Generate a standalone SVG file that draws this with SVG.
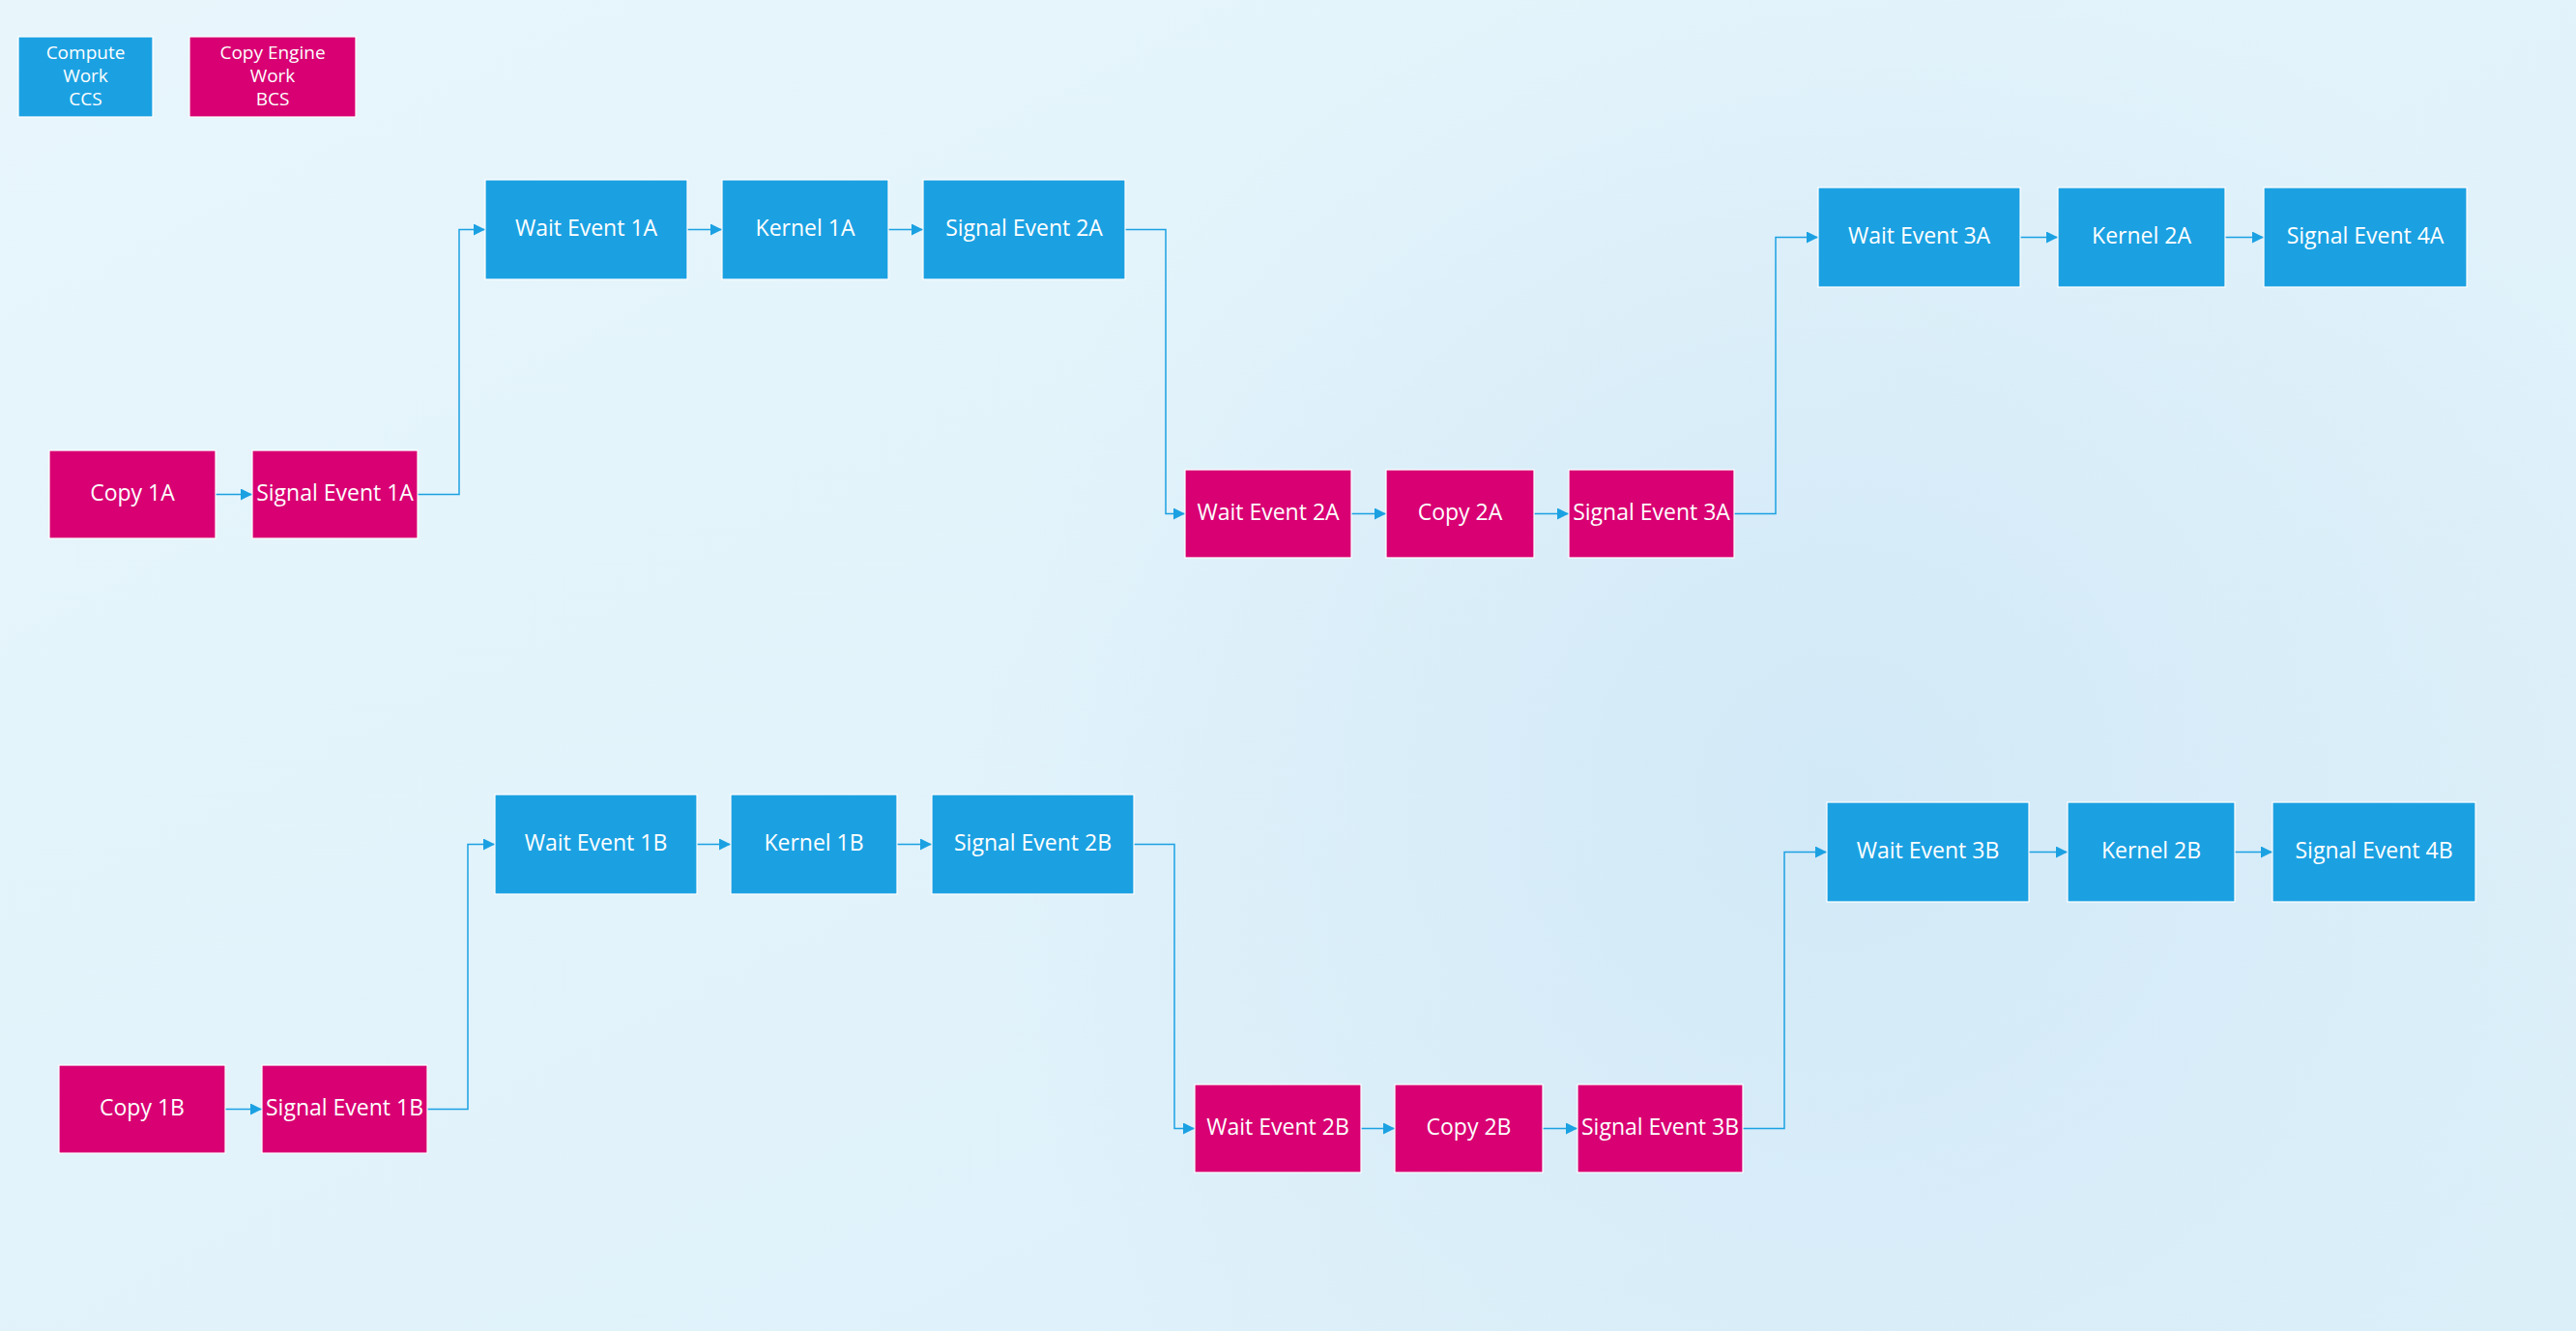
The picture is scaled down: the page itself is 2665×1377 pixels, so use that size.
<svg xmlns="http://www.w3.org/2000/svg" width="2665" height="1377" viewBox="0 0 2665 1377">
<defs>
<linearGradient id="bg" x1="0" y1="0" x2="1" y2="1">
<stop offset="0" stop-color="#e8f6fc"/>
<stop offset="1" stop-color="#dbeff9"/>
</linearGradient>
<radialGradient id="spot" cx="1900" cy="820" r="900" gradientUnits="userSpaceOnUse">
<stop offset="0" stop-color="#d2e9f7" stop-opacity="1"/>
<stop offset="1" stop-color="#d2e9f7" stop-opacity="0"/>
</radialGradient>
<marker id="arr" markerUnits="userSpaceOnUse" markerWidth="12" markerHeight="12" refX="12" refY="6" orient="auto">
<path d="M0,0 L12,6 L0,12 Z" fill="#1ba1e2"/>
</marker>
<style>
.c rect{fill:#1ba1e2;stroke:#ffffff;stroke-width:1.2}
.b rect{fill:#d80073;stroke:#ffffff;stroke-width:1.2}
text{font-family:"Open Sans","Noto Sans","DejaVu Sans",sans-serif;font-size:23px;fill:#ffffff;text-anchor:middle}
.lg text{font-size:19px}
#connectors path{fill:none;stroke:#1ba1e2;stroke-width:1.5;marker-end:url(#arr)}
</style>
</defs>
<rect width="2665" height="1377" fill="url(#bg)"/>
<rect width="2665" height="1377" fill="url(#spot)"/>

<g id="legend-ccs" class="c lg"><rect x="19" y="38" width="139" height="83"/><text x="88.5" y="61">Compute</text><text x="88.5" y="85">Work</text><text x="88.5" y="109">CCS</text></g>
<g id="legend-bcs" class="b lg"><rect x="196" y="38" width="172" height="83"/><text x="282" y="61">Copy Engine</text><text x="282" y="85">Work</text><text x="282" y="109">BCS</text></g>

<g id="connectors">
<path d="M223,511.5 H261"/>
<path d="M432,511.5 H475 V237.5 H502"/>
<path d="M711,237.5 H747"/>
<path d="M919,237.5 H955"/>
<path d="M1164,237.5 H1206 V531.5 H1226"/>
<path d="M1398,531.5 H1434"/>
<path d="M1587,531.5 H1623"/>
<path d="M1794,531.5 H1837 V245.5 H1881"/>
<path d="M2090,245.5 H2129"/>
<path d="M2302,245.5 H2342"/>
<path d="M233,1147.5 H271"/>
<path d="M442,1147.5 H484 V873.5 H512"/>
<path d="M721,873.5 H756"/>
<path d="M928,873.5 H964"/>
<path d="M1173,873.5 H1215 V1167.5 H1236"/>
<path d="M1408,1167.5 H1443"/>
<path d="M1596,1167.5 H1632"/>
<path d="M1803,1167.5 H1846 V881.5 H1890"/>
<path d="M2099,881.5 H2139"/>
<path d="M2312,881.5 H2351"/>
</g>

<g id="copy1A" class="b"><rect x="51" y="466" width="172" height="91"/><text x="137" y="518">Copy 1A</text></g>
<g id="signal1A" class="b"><rect x="261" y="466" width="171" height="91"/><text x="346.5" y="518">Signal Event 1A</text></g>
<g id="wait1A" class="c"><rect x="502" y="186" width="209" height="103"/><text x="606.5" y="244">Wait Event 1A</text></g>
<g id="kernel1A" class="c"><rect x="747" y="186" width="172" height="103"/><text x="833" y="244">Kernel 1A</text></g>
<g id="signal2A" class="c"><rect x="955" y="186" width="209" height="103"/><text x="1059.5" y="244">Signal Event 2A</text></g>
<g id="wait2A" class="b"><rect x="1226" y="486" width="172" height="91"/><text x="1312" y="538">Wait Event 2A</text></g>
<g id="copy2A" class="b"><rect x="1434" y="486" width="153" height="91"/><text x="1510.5" y="538">Copy 2A</text></g>
<g id="signal3A" class="b"><rect x="1623" y="486" width="171" height="91"/><text x="1708.5" y="538">Signal Event 3A</text></g>
<g id="wait3A" class="c"><rect x="1881" y="194" width="209" height="103"/><text x="1985.5" y="252">Wait Event 3A</text></g>
<g id="kernel2A" class="c"><rect x="2129" y="194" width="173" height="103"/><text x="2215.5" y="252">Kernel 2A</text></g>
<g id="signal4A" class="c"><rect x="2342" y="194" width="210" height="103"/><text x="2447" y="252">Signal Event 4A</text></g>

<g id="copy1B" class="b"><rect x="61" y="1102" width="172" height="91"/><text x="147" y="1154">Copy 1B</text></g>
<g id="signal1B" class="b"><rect x="271" y="1102" width="171" height="91"/><text x="356.5" y="1154">Signal Event 1B</text></g>
<g id="wait1B" class="c"><rect x="512" y="822" width="209" height="103"/><text x="616.5" y="880">Wait Event 1B</text></g>
<g id="kernel1B" class="c"><rect x="756" y="822" width="172" height="103"/><text x="842" y="880">Kernel 1B</text></g>
<g id="signal2B" class="c"><rect x="964" y="822" width="209" height="103"/><text x="1068.5" y="880">Signal Event 2B</text></g>
<g id="wait2B" class="b"><rect x="1236" y="1122" width="172" height="91"/><text x="1322" y="1174">Wait Event 2B</text></g>
<g id="copy2B" class="b"><rect x="1443" y="1122" width="153" height="91"/><text x="1519.5" y="1174">Copy 2B</text></g>
<g id="signal3B" class="b"><rect x="1632" y="1122" width="171" height="91"/><text x="1717.5" y="1174">Signal Event 3B</text></g>
<g id="wait3B" class="c"><rect x="1890" y="830" width="209" height="103"/><text x="1994.5" y="888">Wait Event 3B</text></g>
<g id="kernel2B" class="c"><rect x="2139" y="830" width="173" height="103"/><text x="2225.5" y="888">Kernel 2B</text></g>
<g id="signal4B" class="c"><rect x="2351" y="830" width="210" height="103"/><text x="2456" y="888">Signal Event 4B</text></g>
</svg>
